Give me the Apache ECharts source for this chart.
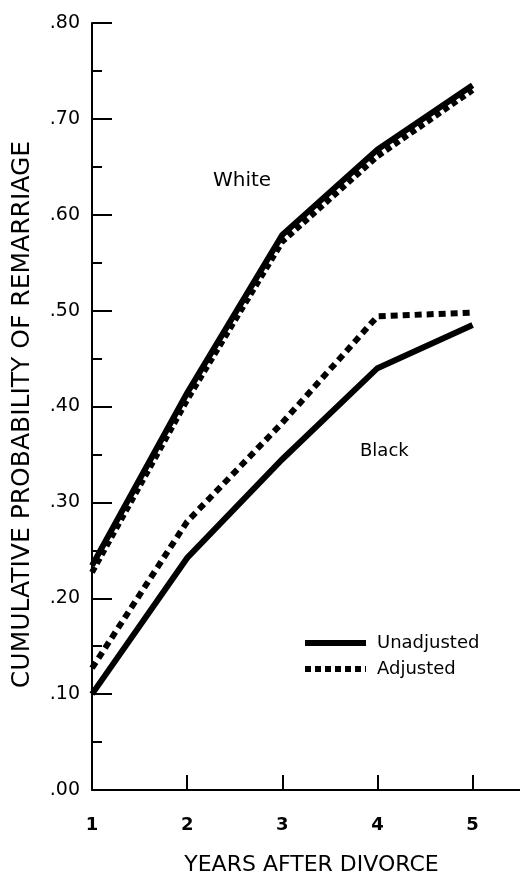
<!DOCTYPE html>
<html>
<head>
<meta charset="utf-8">
<script src="https://cdn.jsdelivr.net/npm/echarts@6/dist/echarts.min.js"></script>
<style>
html,body{margin:0;padding:0;background:#fff;}
#chart{width:520px;height:871px;}
</style>
</head>
<body>
<div id="chart"></div>
<script>
// Data
const years = [1, 2, 3, 4, 5];
const whiteUnadjusted = [0.234, 0.414, 0.579, 0.668, 0.735];
const whiteAdjusted   = [0.227, 0.407, 0.572, 0.661, 0.730];
const blackUnadjusted = [0.100, 0.242, 0.345, 0.440, 0.485];
const blackAdjusted   = [0.127, 0.280, 0.383, 0.494, 0.498];
const seriesNames = ['Unadjusted', 'Adjusted'];
const groupLabels = ['White', 'Black'];
const xTitle = 'YEARS AFTER DIVORCE';
const yTitle = 'CUMULATIVE PROBABILITY OF REMARRIAGE';

const toPairs = (vals) => years.map((x, i) => [x, vals[i]]);
const FONT = 'DejaVu Sans';

const chart = echarts.init(document.getElementById('chart'), null, {renderer: 'canvas'});

const solidStyle = {color: '#000', width: 6, type: 'solid', cap: 'butt', join: 'miter'};
const dotStyleWhite = {color: '#000', width: 6, type: [6, 4], cap: 'butt', join: 'miter'};
const dotStyleBlack = {color: '#000', width: 6, type: [7, 5], cap: 'butt', join: 'miter'};

chart.setOption({
  backgroundColor: '#fff',
  animation: false,
  grid: {left: 92, right: -3, top: 23, bottom: 81, containLabel: false, outerBoundsMode: 'none'},
  xAxis: {
    type: 'value',
    min: 1,
    max: 5.53,
    interval: 1,
    name: xTitle,
    nameLocation: 'middle',
    nameGap: 64,
    nameTextStyle: {fontFamily: FONT, fontSize: 22, color: '#000', padding: [0, 0, 0, 8]},
    axisLine: {show: true, lineStyle: {color: '#000', width: 2}},
    axisTick: {show: true, inside: true, length: 15, lineStyle: {color: '#000', width: 2}},
    axisLabel: {
      margin: 26, fontFamily: FONT, fontSize: 18, fontWeight: 'bold', color: '#000',
      formatter: (v) => (Number.isInteger(v) ? String(v) : '')
    },
    splitLine: {show: false}
  },
  yAxis: {
    type: 'value',
    min: 0,
    max: 0.8,
    interval: 0.1,
    name: yTitle,
    nameLocation: 'middle',
    nameGap: 57,
    nameTextStyle: {fontFamily: FONT, fontSize: 25, color: '#000', padding: [0, 16, 0, 0]},
    axisLine: {show: true, lineStyle: {color: '#000', width: 2}},
    axisTick: {show: true, inside: true, length: 20, lineStyle: {color: '#000', width: 2}},
    minorTick: {show: true, splitNumber: 2, length: 10, lineStyle: {color: '#000', width: 2}},
    axisLabel: {
      margin: 12, fontFamily: FONT, fontSize: 19, color: '#000',
      formatter: (v) => v.toFixed(2).replace(/^0/, '')
    },
    splitLine: {show: false},
    minorSplitLine: {show: false}
  },
  legend: {
    data: seriesNames,
    orient: 'vertical',
    left: 297,
    top: 629,
    itemWidth: 61,
    itemHeight: 16,
    itemGap: 8,
    lineStyle: {width: 6},
    itemStyle: {opacity: 0},
    textStyle: {fontFamily: FONT, fontSize: 18, color: '#000', padding: [0, 0, 0, 6]}
  },
  graphic: [
    {type: 'text', left: 213, top: 171, style: {text: groupLabels[0], font: '20px "DejaVu Sans"', fill: '#000'}},
    {type: 'text', left: 360, top: 442, style: {text: groupLabels[1], font: '18px "DejaVu Sans"', fill: '#000'}}
  ],
  series: [
    {name: seriesNames[0], type: 'line', data: toPairs(whiteUnadjusted), symbol: 'none', lineStyle: solidStyle, itemStyle: {color: '#000'}, z: 3},
    {name: seriesNames[1], type: 'line', data: toPairs(whiteAdjusted), symbol: 'none', lineStyle: dotStyleWhite, itemStyle: {color: '#000'}, z: 2},
    {name: seriesNames[0], type: 'line', data: toPairs(blackUnadjusted), symbol: 'none', lineStyle: solidStyle, itemStyle: {color: '#000'}, z: 3},
    {name: seriesNames[1], type: 'line', data: toPairs(blackAdjusted), symbol: 'none', lineStyle: dotStyleBlack, itemStyle: {color: '#000'}, z: 2}
  ]
});
</script>
</body>
</html>
